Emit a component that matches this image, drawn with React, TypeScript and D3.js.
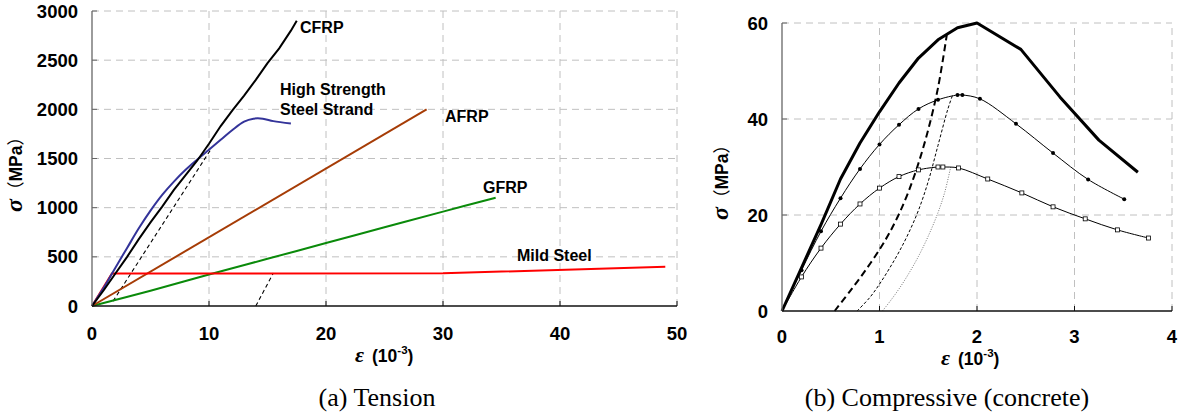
import { useEffect, useRef } from 'react';
import * as d3 from 'd3';

type Pt = [number, number];

// ---- (a) Tension data: strain (1e-3), stress (MPa)
const cfrp: Pt[] = [[0, 0], [1, 160], [2, 330], [3, 500], [4, 680], [5, 850], [6, 1010], [7, 1180], [8, 1330], [9, 1480], [10, 1650], [11, 1830], [12, 1990], [13, 2140], [14, 2300], [15, 2470], [16, 2620], [17, 2800], [17.5, 2900]];
const strand: Pt[] = [[0, 0], [1, 185], [2, 390], [3, 590], [4, 790], [5, 970], [6, 1130], [7, 1265], [8, 1385], [9, 1490], [10, 1590], [11, 1690], [12, 1790], [13, 1875], [13.8, 1905], [14.6, 1905], [15.5, 1880], [17, 1855]];
const afrp: Pt[] = [[0, 0], [28.6, 2000]];
const gfrp: Pt[] = [[0, 0], [5, 155], [10, 320], [15, 480], [20, 640], [25, 800], [30, 960], [34.5, 1100]];
const mildSteel: Pt[] = [[0, 0], [1.7, 330], [30, 332], [49, 400]];
const strandUnload: Pt[] = [[1.8, 50], [10.2, 1600]];
const steelUnload: Pt[] = [[14.0, 0], [15.5, 335]];
const tensionXTicks = [0, 10, 20, 30, 40, 50];
const tensionYTicks = [0, 500, 1000, 1500, 2000, 2500, 3000];

// ---- (b) Compressive (concrete) data
const c60: Pt[] = [[0, 0], [0.2, 9], [0.4, 18], [0.6, 27.5], [0.8, 35], [1.0, 41.5], [1.2, 47.5], [1.4, 52.7], [1.6, 56.5], [1.8, 59], [2.0, 60], [2.45, 54.5], [2.85, 44.6], [3.25, 35.6], [3.65, 28.9]];
const c45: Pt[] = [[0, 0], [0.2, 8.5], [0.4, 16.6], [0.6, 23.5], [0.8, 29.6], [1.0, 34.7], [1.2, 38.8], [1.4, 42.1], [1.6, 44], [1.8, 45], [1.85, 45], [2.03, 44.2], [2.4, 39], [2.78, 32.9], [3.14, 27.4], [3.51, 23.3]];
const c30: Pt[] = [[0, 0], [0.2, 7.1], [0.4, 13.1], [0.6, 18.1], [0.8, 22.3], [1.0, 25.6], [1.2, 28], [1.4, 29.4], [1.6, 30], [1.65, 30], [1.81, 29.8], [2.11, 27.5], [2.46, 24.6], [2.78, 21.7], [3.11, 19.2], [3.44, 16.9], [3.76, 15.2]];
const unload60: Pt[] = [[0.54, 0], [0.7, 4.2], [0.85, 8.3], [1.0, 12.8], [1.1, 16.2], [1.2, 20.2], [1.3, 25], [1.4, 30.8], [1.5, 37.8], [1.6, 46.5], [1.69, 57.5]];
const unload45: Pt[] = [[0.77, 0], [0.9, 2.8], [1.0, 5.6], [1.1, 8.8], [1.2, 12.3], [1.3, 16.3], [1.4, 21], [1.5, 27], [1.6, 34.5], [1.7, 42], [1.75, 45]];
const unload30: Pt[] = [[1.03, 0], [1.1, 1.8], [1.2, 4.6], [1.3, 7.8], [1.4, 11.4], [1.5, 15.6], [1.6, 20.5], [1.67, 24.8], [1.73, 30]];
const compXTicks = [0, 1, 2, 3, 4];
const compYTicks = [0, 20, 40, 60];

const SANS = '"Liberation Sans", Arial, sans-serif';
const SERIF = '"Liberation Serif", "Times New Roman", serif';
const CJK = '"Noto Sans CJK SC", sans-serif';

export default function App() {
  const svgRef = useRef<SVGSVGElement>(null);

  useEffect(() => {
    if (!svgRef.current) return;
    const svg = d3.select(svgRef.current);
    svg.selectAll('*').remove();
    svg.append('rect').attr('width', 1180).attr('height', 418).attr('fill', '#fff');

    const grid = (x: d3.ScaleLinear<number, number>, y: d3.ScaleLinear<number, number>, xt: number[], yt: number[]) => {
      const g = svg.append('g');
      const [x0, x1] = x.range();
      const [y0, y1] = y.range();
      g.selectAll('.gx').data(xt.slice(1)).join('line')
        .attr('x1', d => x(d)).attr('x2', d => x(d)).attr('y1', y0).attr('y2', y1)
        .attr('stroke', '#c0c0c0').attr('stroke-dasharray', '7,5');
      g.selectAll('.gy').data(yt.slice(1)).join('line')
        .attr('y1', d => y(d)).attr('y2', d => y(d)).attr('x1', x0).attr('x2', x1)
        .attr('stroke', '#c0c0c0').attr('stroke-dasharray', '7,5');
    };

    const axes = (x: d3.ScaleLinear<number, number>, y: d3.ScaleLinear<number, number>, xt: number[], yt: number[], xLabY: number) => {
      const g = svg.append('g');
      const [x0, x1] = x.range();
      const [y0, y1] = y.range();
      g.append('line').attr('x1', x0).attr('x2', x0).attr('y1', y0).attr('y2', y1).attr('stroke', '#666').attr('stroke-width', 1.3);
      g.append('line').attr('x1', x0).attr('x2', x1).attr('y1', y0).attr('y2', y0).attr('stroke', '#111').attr('stroke-width', 1.3);
      xt.slice(1).forEach(t => {
        g.append('line').attr('x1', x(t)).attr('x2', x(t)).attr('y1', y0).attr('y2', y0 - 5).attr('stroke', '#111');
      });
      yt.slice(1).forEach(t => {
        g.append('line').attr('x1', x0).attr('x2', x0 + 5).attr('y1', y(t)).attr('y2', y(t)).attr('stroke', '#666');
      });
      g.selectAll('.xl').data(xt).join('text')
        .attr('x', d => x(d)).attr('y', xLabY).attr('text-anchor', 'middle')
        .attr('font-family', SANS).attr('font-weight', 'bold').attr('font-size', 18.5).text(d => d);
      g.selectAll('.yl').data(yt).join('text')
        .attr('x', x0 - 14).attr('y', d => y(d) + 6.5).attr('text-anchor', 'end')
        .attr('font-family', SANS).attr('font-weight', 'bold').attr('font-size', 18.5).text(d => d);
    };

    const axisTitles = (xStart: number, xBase: number, yCx: number, yCy: number) => {
      const xt = svg.append('text').attr('x', xStart).attr('y', xBase)
        .attr('font-family', SANS).attr('font-weight', 'bold').attr('font-size', 17.5);
      xt.append('tspan').attr('font-family', SERIF).attr('font-style', 'italic').attr('font-size', 22).text('ε');
      xt.append('tspan').attr('dx', 8).text('(10');
      xt.append('tspan').attr('dy', -8).attr('font-size', 11.5).text('-3');
      xt.append('tspan').attr('dy', 8).text(')');
      const yt = svg.append('text').attr('transform', `translate(${yCx},${yCy}) rotate(-90)`)
        .attr('text-anchor', 'middle').attr('font-family', SANS).attr('font-weight', 'bold').attr('font-size', 17.5);
      yt.append('tspan').attr('font-family', SERIF).attr('font-style', 'italic').attr('font-size', 24).text('σ');
      yt.append('tspan').attr('font-family', CJK).attr('font-weight', 'normal').text('（');
      yt.append('tspan').text('MPa');
      yt.append('tspan').attr('font-family', CJK).attr('font-weight', 'normal').text('）');
    };

    // ---------- (a) Tension
    const xa = d3.scaleLinear().domain([0, 50]).range([92, 677]);
    const ya = d3.scaleLinear().domain([0, 3000]).range([306, 11]);
    grid(xa, ya, tensionXTicks, tensionYTicks);
    const la = d3.line<Pt>().x(d => xa(d[0])).y(d => ya(d[1]));
    const lsm = d3.line<Pt>().x(d => xa(d[0])).y(d => ya(d[1])).curve(d3.curveCatmullRom.alpha(0.5));
    const ga = svg.append('g').attr('fill', 'none');
    ga.append('path').attr('d', la(strandUnload)).attr('stroke', '#000').attr('stroke-width', 1.1).attr('stroke-dasharray', '4,3');
    ga.append('path').attr('d', la(steelUnload)).attr('stroke', '#000').attr('stroke-width', 1.1).attr('stroke-dasharray', '4,3');
    ga.append('path').attr('d', lsm(gfrp)).attr('stroke', '#0a8a0a').attr('stroke-width', 2);
    ga.append('path').attr('d', la(afrp)).attr('stroke', '#a63c06').attr('stroke-width', 2);
    ga.append('path').attr('d', la(mildSteel)).attr('stroke', '#ff0000').attr('stroke-width', 2);
    ga.append('path').attr('d', lsm(strand)).attr('stroke', '#333399').attr('stroke-width', 2);
    ga.append('path').attr('d', la(cfrp)).attr('stroke', '#000').attr('stroke-width', 2);
    axes(xa, ya, tensionXTicks, tensionYTicks, 340);
    axisTitles(355, 362, 22, 170);

    const seriesLabels: [string, number, number][] = [
      ['CFRP', 300, 33], ['High Strength', 280, 95], ['Steel Strand', 280, 115],
      ['AFRP', 445, 122], ['GFRP', 483, 193], ['Mild Steel', 517, 261],
    ];
    svg.selectAll('.sl').data(seriesLabels).join('text')
      .attr('x', d => d[1]).attr('y', d => d[2])
      .attr('font-family', SANS).attr('font-weight', 'bold').attr('font-size', 16).text(d => d[0]);

    // ---------- (b) Compressive
    const xb = d3.scaleLinear().domain([0, 4]).range([782, 1172]);
    const yb = d3.scaleLinear().domain([0, 60]).range([311, 23]);
    grid(xb, yb, compXTicks, compYTicks);
    const lbLin = d3.line<Pt>().x(d => xb(d[0])).y(d => yb(d[1]));
    const lbSm = d3.line<Pt>().x(d => xb(d[0])).y(d => yb(d[1])).curve(d3.curveCatmullRom.alpha(0.5));
    const gb = svg.append('g').attr('fill', 'none');
    gb.append('path').attr('d', lbSm(unload30)).attr('stroke', '#777').attr('stroke-width', 1).attr('stroke-dasharray', '1,1.5');
    gb.append('path').attr('d', lbSm(unload45)).attr('stroke', '#000').attr('stroke-width', 1).attr('stroke-dasharray', '3,2');
    gb.append('path').attr('d', lbSm(unload60)).attr('stroke', '#000').attr('stroke-width', 2).attr('stroke-dasharray', '7,4');
    gb.append('path').attr('d', lbSm(c30)).attr('stroke', '#000').attr('stroke-width', 1);
    gb.append('path').attr('d', lbSm(c45)).attr('stroke', '#000').attr('stroke-width', 1);
    gb.append('path').attr('d', lbLin(c60)).attr('stroke', '#000').attr('stroke-width', 3).attr('stroke-linejoin', 'round');
    svg.append('g').selectAll('circle').data(c45.slice(1)).join('circle')
      .attr('cx', d => xb(d[0])).attr('cy', d => yb(d[1])).attr('r', 2).attr('fill', '#000');
    svg.append('g').selectAll('rect').data(c30.slice(1)).join('rect')
      .attr('x', d => xb(d[0]) - 2).attr('y', d => yb(d[1]) - 2).attr('width', 4).attr('height', 4)
      .attr('fill', '#fff').attr('stroke', '#000').attr('stroke-width', 0.8);
    axes(xb, yb, compXTicks, compYTicks, 343);
    axisTitles(941, 365, 728, 178);

    // ---------- captions
    svg.append('text').attr('x', 377).attr('y', 406).attr('text-anchor', 'middle')
      .attr('font-family', SERIF).attr('font-size', 26).text('(a) Tension');
    svg.append('text').attr('x', 947).attr('y', 406).attr('text-anchor', 'middle')
      .attr('font-family', SERIF).attr('font-size', 26).text('(b) Compressive (concrete)');
  }, []);

  return (
    <div style={{ position: 'fixed', left: 0, top: 0 }}>
      <svg ref={svgRef} width={1180} height={418} style={{ display: 'block' }} />
    </div>
  );
}
